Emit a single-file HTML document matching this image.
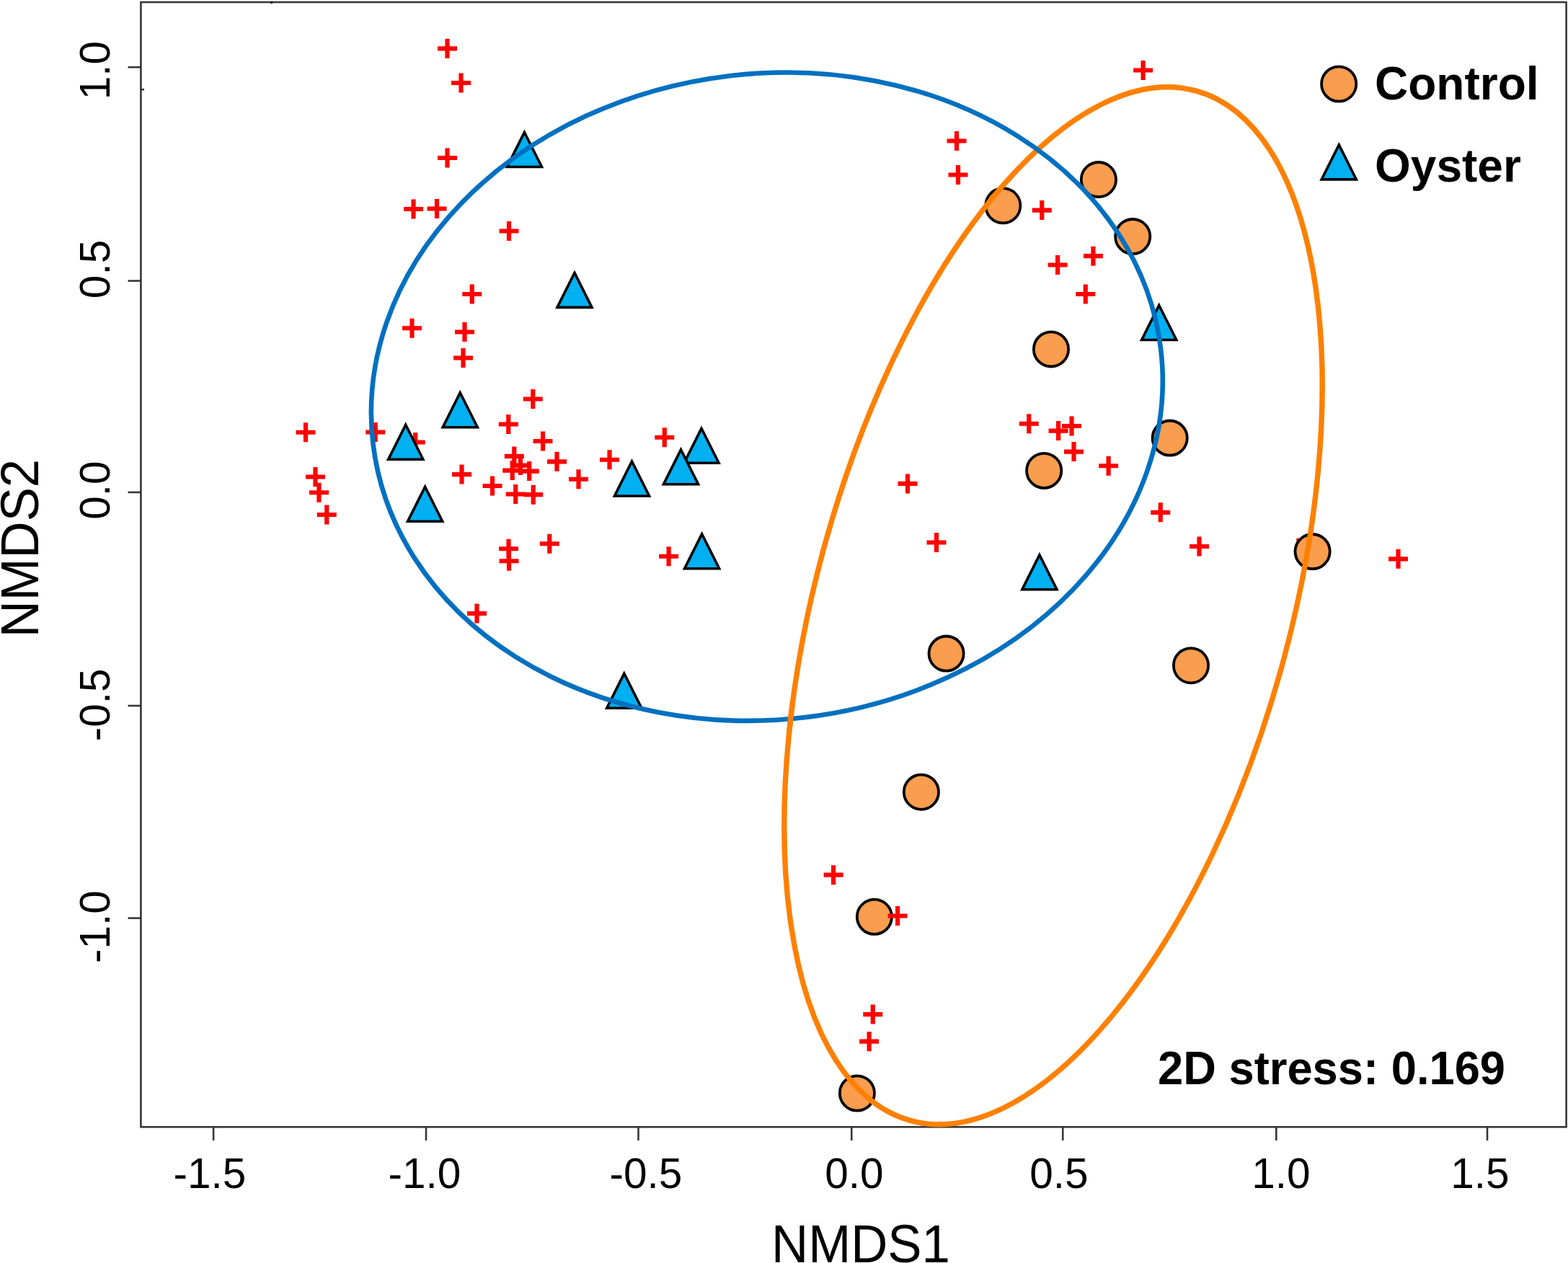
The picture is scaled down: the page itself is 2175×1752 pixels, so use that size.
<!DOCTYPE html>
<html><head><meta charset="utf-8"><title>NMDS plot</title>
<style>
html,body{margin:0;padding:0;background:#fff;}
body{width:2175px;height:1752px;overflow:hidden;}
svg{display:block;}
text{font-family:"Liberation Sans",Arial,Helvetica,sans-serif;}
</style></head><body>
<svg width="2175" height="1752" viewBox="0 0 2175 1752">
<rect x="0" y="0" width="2175" height="1752" fill="#fff"/>
<g stroke="#363636" stroke-width="2.6" fill="none">
<rect x="195.4" y="3" width="1977.2" height="1560.3"/>
<line x1="296.1" y1="1563.3" x2="296.1" y2="1582"/>
<line x1="591" y1="1563.3" x2="591" y2="1582"/>
<line x1="885.5" y1="1563.3" x2="885.5" y2="1582"/>
<line x1="1181.25" y1="1563.3" x2="1181.25" y2="1582"/>
<line x1="1474.25" y1="1563.3" x2="1474.25" y2="1582"/>
<line x1="1770.3" y1="1563.3" x2="1770.3" y2="1582"/>
<line x1="2063" y1="1563.3" x2="2063" y2="1582"/>
<line x1="177.5" y1="93.2" x2="195.4" y2="93.2"/>
<line x1="177.5" y1="389.6" x2="195.4" y2="389.6"/>
<line x1="177.5" y1="682.9" x2="195.4" y2="682.9"/>
<line x1="177.5" y1="979" x2="195.4" y2="979"/>
<line x1="177.5" y1="1273.6" x2="195.4" y2="1273.6"/>
<line x1="195.4" y1="124.2" x2="200" y2="124.2"/>
</g>
<circle cx="376.6" cy="3.4" r="1.6" fill="#000"/>
<g font-size="58.5" fill="#000" text-anchor="middle">
<text x="291" y="1648">-1.5</text>
<text x="589" y="1648">-1.0</text>
<text x="896" y="1648">-0.5</text>
<text x="1185" y="1648">0.0</text>
<text x="1469" y="1648">0.5</text>
<text x="1777" y="1648">1.0</text>
<text x="2053" y="1648">1.5</text>
<text transform="translate(151.5 97.7) rotate(-90)" x="0" y="0">1.0</text>
<text transform="translate(151.5 373.5) rotate(-90)" x="0" y="0">0.5</text>
<text transform="translate(151.5 680.2) rotate(-90)" x="0" y="0">0.0</text>
<text transform="translate(151.5 977.9) rotate(-90)" x="0" y="0">-0.5</text>
<text transform="translate(151.5 1285.5) rotate(-90)" x="0" y="0">-1.0</text>
</g>
<text transform="translate(1194 1750.8) scale(0.957 1)" font-size="74" text-anchor="middle">NMDS1</text>
<text transform="translate(52.5 760.6) rotate(-90) scale(0.955 1)" font-size="74" text-anchor="middle">NMDS2</text>
<path fill="#FF0000" d="M607.00 64.20h27.0v6.2h-27.0zM617.40 53.80h6.2v27.0h-6.2zM626.00 111.90h27.0v6.2h-27.0zM636.40 101.50h6.2v27.0h-6.2zM607.00 215.90h27.0v6.2h-27.0zM617.40 205.50h6.2v27.0h-6.2zM560.00 286.90h27.0v6.2h-27.0zM570.40 276.50h6.2v27.0h-6.2zM592.50 286.40h27.0v6.2h-27.0zM602.90 276.00h6.2v27.0h-6.2zM692.50 317.40h27.0v6.2h-27.0zM702.90 307.00h6.2v27.0h-6.2zM641.25 404.90h27.0v6.2h-27.0zM651.65 394.50h6.2v27.0h-6.2zM558.00 452.15h27.0v6.2h-27.0zM568.40 441.75h6.2v27.0h-6.2zM631.00 457.40h27.0v6.2h-27.0zM641.40 447.00h6.2v27.0h-6.2zM629.00 493.40h27.0v6.2h-27.0zM639.40 483.00h6.2v27.0h-6.2zM725.75 550.40h27.0v6.2h-27.0zM736.15 540.00h6.2v27.0h-6.2zM691.75 585.40h27.0v6.2h-27.0zM702.15 575.00h6.2v27.0h-6.2zM410.50 596.65h27.0v6.2h-27.0zM420.90 586.25h6.2v27.0h-6.2zM507.25 596.40h27.0v6.2h-27.0zM517.65 586.00h6.2v27.0h-6.2zM562.70 610.40h27.0v6.2h-27.0zM573.10 600.00h6.2v27.0h-6.2zM739.50 608.90h27.0v6.2h-27.0zM749.90 598.50h6.2v27.0h-6.2zM908.25 603.65h27.0v6.2h-27.0zM918.65 593.25h6.2v27.0h-6.2zM699.80 629.80h27.0v6.2h-27.0zM710.20 619.40h6.2v27.0h-6.2zM759.00 637.20h27.0v6.2h-27.0zM769.40 626.80h6.2v27.0h-6.2zM832.00 634.65h27.0v6.2h-27.0zM842.40 624.25h6.2v27.0h-6.2zM708.40 642.50h27.0v6.2h-27.0zM718.80 632.10h6.2v27.0h-6.2zM697.20 649.50h27.0v6.2h-27.0zM707.60 639.10h6.2v27.0h-6.2zM720.70 650.50h27.0v6.2h-27.0zM731.10 640.10h6.2v27.0h-6.2zM627.00 655.00h27.0v6.2h-27.0zM637.40 644.60h6.2v27.0h-6.2zM789.00 661.65h27.0v6.2h-27.0zM799.40 651.25h6.2v27.0h-6.2zM424.00 658.40h27.0v6.2h-27.0zM434.40 648.00h6.2v27.0h-6.2zM669.50 670.90h27.0v6.2h-27.0zM679.90 660.50h6.2v27.0h-6.2zM429.00 680.15h27.0v6.2h-27.0zM439.40 669.75h6.2v27.0h-6.2zM701.70 682.40h27.0v6.2h-27.0zM712.10 672.00h6.2v27.0h-6.2zM726.20 683.10h27.0v6.2h-27.0zM736.60 672.70h6.2v27.0h-6.2zM439.75 710.90h27.0v6.2h-27.0zM450.15 700.50h6.2v27.0h-6.2zM748.75 751.15h27.0v6.2h-27.0zM759.15 740.75h6.2v27.0h-6.2zM692.00 758.15h27.0v6.2h-27.0zM702.40 747.75h6.2v27.0h-6.2zM692.50 775.15h27.0v6.2h-27.0zM702.90 764.75h6.2v27.0h-6.2zM914.10 768.65h27.0v6.2h-27.0zM924.50 758.25h6.2v27.0h-6.2zM648.00 847.90h27.0v6.2h-27.0zM658.40 837.50h6.2v27.0h-6.2zM1572.10 94.40h27.0v6.2h-27.0zM1582.50 84.00h6.2v27.0h-6.2zM1313.50 192.40h27.0v6.2h-27.0zM1323.90 182.00h6.2v27.0h-6.2zM1315.50 239.40h27.0v6.2h-27.0zM1325.90 229.00h6.2v27.0h-6.2zM1431.75 288.50h27.0v6.2h-27.0zM1442.15 278.10h6.2v27.0h-6.2zM1502.90 352.10h27.0v6.2h-27.0zM1513.30 341.70h6.2v27.0h-6.2zM1453.60 364.40h27.0v6.2h-27.0zM1464.00 354.00h6.2v27.0h-6.2zM1492.25 404.90h27.0v6.2h-27.0zM1502.65 394.50h6.2v27.0h-6.2zM1413.75 584.65h27.0v6.2h-27.0zM1424.15 574.25h6.2v27.0h-6.2zM1454.60 594.50h27.0v6.2h-27.0zM1465.00 584.10h6.2v27.0h-6.2zM1473.00 587.90h27.0v6.2h-27.0zM1483.40 577.50h6.2v27.0h-6.2zM1476.00 623.50h27.0v6.2h-27.0zM1486.40 613.10h6.2v27.0h-6.2zM1524.10 643.15h27.0v6.2h-27.0zM1534.50 632.75h6.2v27.0h-6.2zM1245.50 667.80h27.0v6.2h-27.0zM1255.90 657.40h6.2v27.0h-6.2zM1596.25 707.70h27.0v6.2h-27.0zM1606.65 697.30h6.2v27.0h-6.2zM1285.50 749.40h27.0v6.2h-27.0zM1295.90 739.00h6.2v27.0h-6.2zM1650.00 754.90h27.0v6.2h-27.0zM1660.40 744.50h6.2v27.0h-6.2zM1926.00 772.20h27.0v6.2h-27.0zM1936.40 761.80h6.2v27.0h-6.2zM1799.50 752.90h27.0v6.2h-27.0zM1809.90 742.50h6.2v27.0h-6.2zM1142.60 1210.60h27.0v6.2h-27.0zM1153.00 1200.20h6.2v27.0h-6.2zM1197.25 1404.00h27.0v6.2h-27.0zM1207.65 1393.60h6.2v27.0h-6.2zM1192.10 1441.60h27.0v6.2h-27.0zM1202.50 1431.20h6.2v27.0h-6.2z"/>
<rect x="1798.2" y="746.6" width="3.6" height="4" fill="#FF0000"/>
<g fill="#F99D4E" stroke="#000" stroke-width="3.8">
<circle cx="1523.9" cy="249.1" r="24.1"/>
<circle cx="1391.3" cy="285.3" r="24.1"/>
<circle cx="1571.2" cy="328.1" r="24.1"/>
<circle cx="1458" cy="484.4" r="24.1"/>
<circle cx="1622.7" cy="607.6" r="24.1"/>
<circle cx="1448.2" cy="652.9" r="24.1"/>
<circle cx="1820.6" cy="765.1" r="24.1"/>
<circle cx="1312.6" cy="906.6" r="24.1"/>
<circle cx="1652" cy="923.2" r="24.1"/>
<circle cx="1277.9" cy="1098.7" r="24.1"/>
<circle cx="1212.9" cy="1271.8" r="24.1"/>
<circle cx="1188.9" cy="1516.5" r="24.1"/>
</g>
<path fill="#FF0000" d="M1231.60 1267.40h27.0v6.2h-27.0zM1242.00 1257.00h6.2v27.0h-6.2z"/>
<g fill="#00B0F0" stroke="#000" stroke-width="3.6" stroke-linejoin="miter">
<path d="M727.40 183.50L751.46 231.50L703.34 231.50Z"/>
<path d="M796.95 378.40L821.01 426.40L772.89 426.40Z"/>
<path d="M638.25 544.80L662.31 592.80L614.19 592.80Z"/>
<path d="M562.75 589.20L586.81 637.20L538.69 637.20Z"/>
<path d="M589.60 675.20L613.66 723.20L565.54 723.20Z"/>
<path d="M973.00 594.20L997.06 642.20L948.94 642.20Z"/>
<path d="M944.50 623.70L968.56 671.70L920.44 671.70Z"/>
<path d="M876.50 639.95L900.56 687.95L852.44 687.95Z"/>
<path d="M973.60 740.70L997.66 788.70L949.54 788.70Z"/>
<path d="M1607.70 423.50L1631.76 471.50L1583.64 471.50Z"/>
<path d="M1441.90 769.70L1465.96 817.70L1417.84 817.70Z"/>
<path d="M865.80 934.20L889.86 982.20L841.74 982.20Z"/>
</g>
<ellipse cx="1460.98" cy="840.24" rx="328.0" ry="741.15" transform="rotate(15.53 1460.98 840.24)" fill="none" stroke="#FF8000" stroke-width="7.4"/>
<ellipse cx="1063.85" cy="550.21" rx="550.27" ry="448.0" transform="rotate(-6.866 1063.85 550.21)" fill="none" stroke="#0070C0" stroke-width="6.6"/>
<clipPath id="cp"><rect x="1080" y="975" width="35" height="40"/></clipPath><g clip-path="url(#cp)"><ellipse cx="1460.98" cy="840.24" rx="328.0" ry="741.15" transform="rotate(15.53 1460.98 840.24)" fill="none" stroke="#FF8000" stroke-width="7.4"/></g>
<circle cx="1857.15" cy="116.5" r="24.1" fill="#F99D4E" stroke="#000" stroke-width="3.8"/>
<g fill="#00B0F0" stroke="#000" stroke-width="3.6"><path d="M1857.25 200.90L1881.31 248.90L1833.19 248.90Z"/></g>
<g font-size="64" font-weight="bold" fill="#000">
<text x="1907" y="137.5">Control</text>
<text x="1907" y="252">Oyster</text>
<text transform="translate(1606 1503.5) scale(0.965 1)" font-size="65.6">2D stress: 0.169</text>
</g>
</svg></body></html>
